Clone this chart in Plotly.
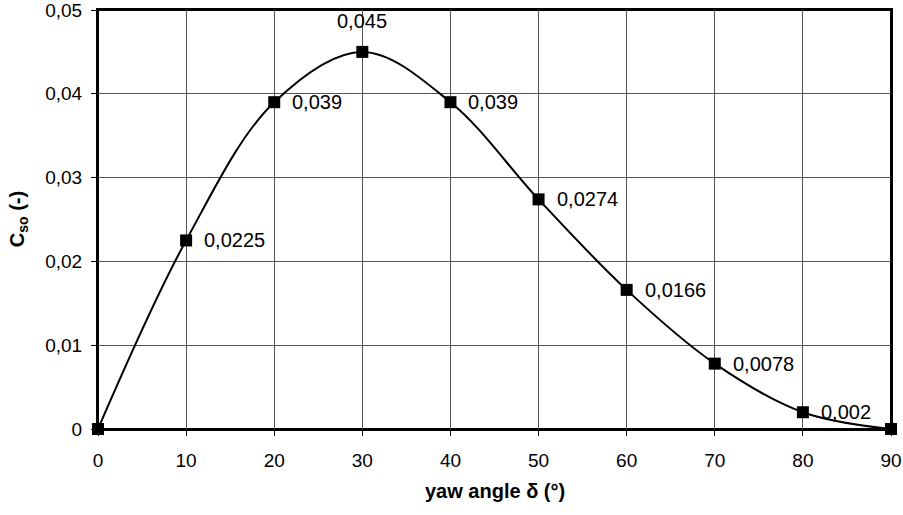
import plotly.graph_objects as go

yaw_angle = [0, 10, 20, 30, 40, 50, 60, 70, 80, 90]
c_so = [0.0, 0.0225, 0.039, 0.045, 0.039, 0.0274, 0.0166, 0.0078, 0.002, 0.0]
point_labels = ["", "0,0225", "0,039", "0,045", "0,039", "0,0274", "0,0166", "0,0078", "0,002", ""]
y_tick_vals = [0, 0.01, 0.02, 0.03, 0.04, 0.05]
y_tick_text = ["0", "0,01", "0,02", "0,03", "0,04", "0,05"]
x_tick_vals = [0, 10, 20, 30, 40, 50, 60, 70, 80, 90]

FONT = "Arial, Liberation Sans, sans-serif"
FS = 19
LFS = 20

fig = go.Figure()
fig.add_trace(go.Scatter(
    x=yaw_angle, y=c_so, mode="lines+markers",
    line=dict(color="black", width=2, shape="spline", smoothing=1.0),
    marker=dict(symbol="square", size=12, color="black"),
    cliponaxis=False, showlegend=False, hoverinfo="skip"
))

annotations = []
for xv, yv, lab in zip(yaw_angle, c_so, point_labels):
    if not lab:
        continue
    if lab == "0,045":
        annotations.append(dict(x=xv, y=yv, text=lab, showarrow=False,
                                xanchor="center", yanchor="bottom", yshift=18,
                                font=dict(family=FONT, size=LFS, color="black")))
    else:
        annotations.append(dict(x=xv, y=yv, text=lab, showarrow=False,
                                xanchor="left", yanchor="middle", xshift=16,
                                font=dict(family=FONT, size=LFS, color="black")))

annotations.append(dict(xref="paper", yref="paper", x=0.5, y=-0.148,
                        text="<b>yaw angle δ (°)</b>", showarrow=False,
                        xanchor="center", yanchor="middle",
                        font=dict(family=FONT, size=20, color="black")))
annotations.append(dict(xref="paper", yref="paper", x=-0.1, y=0.5,
                        text="<b>C<sub>so</sub> (-)</b>", showarrow=False,
                        textangle=-90, xanchor="center", yanchor="middle",
                        font=dict(family=FONT, size=20, color="black")))

fig.update_layout(
    width=903, height=515,
    margin=dict(l=98, r=12, t=10, b=86),
    paper_bgcolor="white", plot_bgcolor="white",
    font=dict(family=FONT, size=FS, color="black"),
    annotations=annotations,
    shapes=[dict(type="rect", xref="paper", yref="paper", x0=0, y0=0, x1=1, y1=1,
                 line=dict(color="black", width=2), layer="between")],
    xaxis=dict(range=[0, 90], tickvals=x_tick_vals, showgrid=True,
               gridcolor="#555555", gridwidth=1, zeroline=False,
               showline=True, linecolor="black", linewidth=2, mirror=True,
               ticks="outside", ticklen=5, tickcolor="black",
               ticklabelstandoff=8, automargin=False, ticklabeloverflow="allow",
               tickfont=dict(family=FONT, size=FS)),
    yaxis=dict(range=[0, 0.05], tickvals=y_tick_vals, ticktext=y_tick_text,
               showgrid=True, gridcolor="#555555", gridwidth=1, zeroline=False,
               showline=True, linecolor="black", linewidth=2, mirror=True,
               ticks="outside", ticklen=5, tickcolor="black",
               ticklabelstandoff=5, automargin=False, ticklabeloverflow="allow",
               tickfont=dict(family=FONT, size=FS)),
)

fig.write_html("out.html", config={"displayModeBar": False},
               post_script="document.body.style.margin='0';document.body.style.overflow='hidden';")
